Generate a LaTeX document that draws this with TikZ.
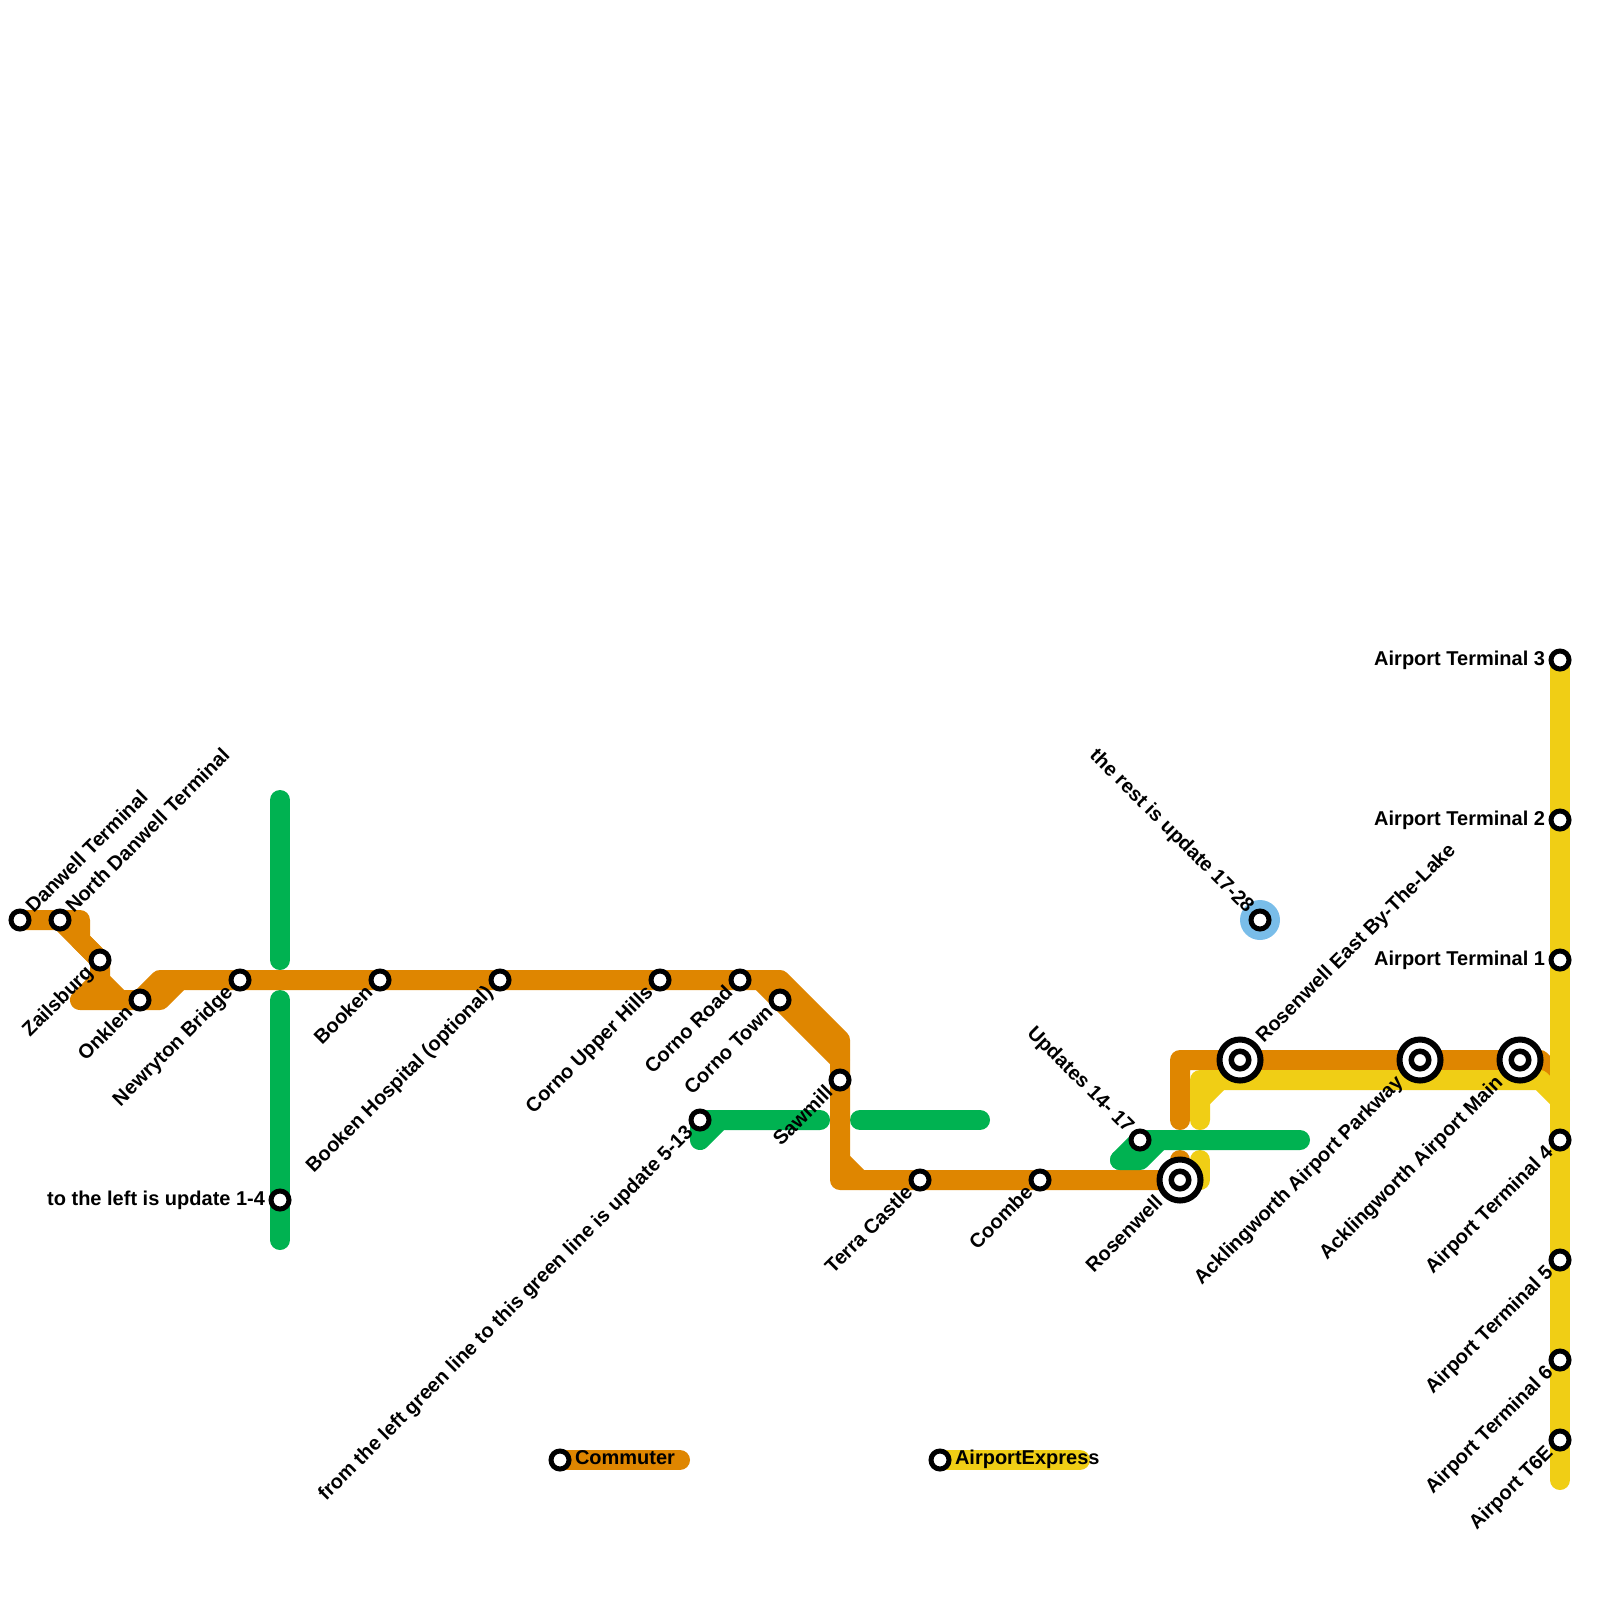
\documentclass[tikz,border=0pt]{standalone}
\usepackage{fontspec}
\setmainfont{Liberation Sans}
\definecolor{orangeline}{HTML}{DF8600}
\definecolor{greenline}{HTML}{00B251}
\definecolor{yellowline}{HTML}{F0CE15}
\definecolor{blueline}{HTML}{79BDE9}
\tikzset{
  metro/.style={line width=20pt,line cap=round,line join=round},
  orangepath/.style={metro,draw=orangeline},
  greenpath/.style={metro,draw=greenline},
  yellowpath/.style={metro,draw=yellowline},
  stn/.style={circle,draw=black,fill=white,line width=5pt,minimum size=18pt,inner sep=0pt,outer sep=0pt},
  hub/.style={circle,draw=black,fill=white,line width=6pt,minimum size=41pt,inner sep=0pt,outer sep=0pt},
  hubinner/.style={circle,draw=black,fill=white,line width=5.5pt,minimum size=17.5pt,inner sep=0pt,outer sep=0pt},
  lbl/.style={font=\fontsize{20}{22}\selectfont\bfseries,text=black,inner sep=0pt,outer sep=0pt},
  up/.style={lbl,rotate=45,anchor=mid west},
  dn/.style={lbl,rotate=45,anchor=mid east},
  ul/.style={lbl,rotate=-45,anchor=mid east},
  lf/.style={lbl,anchor=mid east}
}
\begin{document}
\begin{tikzpicture}[x=1pt,y=-1pt]
\useasboundingbox (0,0) rectangle (1600,1600);
% green lines
\draw[greenpath] (280,800) -- (280,960);
\draw[greenpath] (280,1000) -- (280,1240);
\draw[greenpath] (820,1120) -- (700,1120) -- (700,1140) -- (720,1120);
\draw[greenpath] (860,1120) -- (980,1120);
% orange lines
\draw[orangepath] (20,920) -- (80,920) -- (80,940) -- (100,960);
\draw[orangepath] (60,920) -- (100,960) -- (100,980) -- (120,1000);
\draw[orangepath] (100,980) -- (80,1000) -- (160,1000) -- (180,980);
\draw[orangepath] (140,1000) -- (160,980) -- (780,980) -- (840,1040) -- (840,1180) -- (1180,1180);
\draw[orangepath] (760,980) -- (840,1060);
\draw[orangepath] (840,1160) -- (860,1180);
\draw[orangepath] (1180,1160) -- (1180,1180);
\draw[orangepath] (1180,1120) -- (1180,1060) -- (1540,1060) -- (1560,1080);
% yellow lines
\draw[yellowpath] (1200,1160) -- (1200,1180);
\draw[yellowpath] (1200,1120) -- (1200,1080) -- (1540,1080) -- (1560,1100);
\draw[yellowpath] (1200,1100) -- (1220,1080);
\draw[yellowpath,line cap=butt] (1560,660) -- (1560,670);
\draw[yellowpath] (1560,670) -- (1560,1480);
% green over the top
\draw[greenpath] (1120,1160) -- (1140,1140) -- (1300,1140);
\draw[greenpath] (1120,1160) -- (1140,1160) -- (1160,1140);
% legend
\draw[orangepath] (560,1460) -- (680,1460);
\draw[yellowpath] (940,1460) -- (1080,1460);
% blue halo
\fill[blueline] (1260,920) circle (20);
% stations
\node[stn] (danwell) at (20,920) {};
\node[stn] (ndanwell) at (60,920) {};
\node[stn] (zails) at (100,960) {};
\node[stn] (onklen) at (140,1000) {};
\node[stn] (newry) at (240,980) {};
\node[stn] (booken) at (380,980) {};
\node[stn] (bookenh) at (500,980) {};
\node[stn] (cornoup) at (660,980) {};
\node[stn] (cornord) at (740,980) {};
\node[stn] (cornotn) at (780,1000) {};
\node[stn] (sawmill) at (840,1080) {};
\node[stn] (upfive) at (700,1120) {};
\node[stn] (leftone) at (280,1200) {};
\node[stn] (terra) at (920,1180) {};
\node[stn] (coombe) at (1040,1180) {};
\node[stn] (upfourteen) at (1140,1140) {};
\node[stn] (rest) at (1260,920) {};
\node[stn] (tthree) at (1560,660) {};
\node[stn] (ttwo) at (1560,820) {};
\node[stn] (tone) at (1560,960) {};
\node[stn] (tfour) at (1560,1140) {};
\node[stn] (tfive) at (1560,1260) {};
\node[stn] (tsix) at (1560,1360) {};
\node[stn] (tsixe) at (1560,1440) {};
\node[hub] (rosen) at (1180,1180) {}; \node[hubinner] (rosenc) at (1180,1180) {};
\node[hub] (roseast) at (1240,1060) {}; \node[hubinner] (roseastc) at (1240,1060) {};
\node[hub] (parkway) at (1420,1060) {}; \node[hubinner] (parkwayc) at (1420,1060) {};
\node[hub] (mainst) at (1520,1060) {}; \node[hubinner] (mainstc) at (1520,1060) {};
\node[stn] (legc) at (560,1460) {};
\node[stn] (lega) at (940,1460) {};
% labels
\node[up] (l1) at ([shift={(12,-8)}]danwell.center) {Danwell Terminal};
\node[up] (l2) at ([shift={(12,-8)}]ndanwell.center) {North Danwell Terminal};
\node[dn] (l3) at ([shift={(-8,12)}]zails.center) {Zailsburg};
\node[dn] (l4) at ([shift={(-8,12)}]onklen.center) {Onklen};
\node[dn] (l5) at ([shift={(-8,12)}]newry.center) {Newryton Bridge};
\node[dn] (l6) at ([shift={(-8,12)}]booken.center) {Booken};
\node[dn] (l7) at ([shift={(-8,12)}]bookenh.center) {Booken Hospital (optional)};
\node[dn] (l8) at ([shift={(-8,12)}]cornoup.center) {Corno Upper Hills};
\node[dn] (l9) at ([shift={(-8,12)}]cornord.center) {Corno Road};
\node[dn] (l10) at ([shift={(-8,12)}]cornotn.center) {Corno Town};
\node[dn] (l11) at ([shift={(-8,12)}]sawmill.center) {Sawmill};
\node[dn] (l12) at ([shift={(-8,12)}]upfive.center) {from the left green line to this green line is update 5-13};
\node[lf] (l13) at ([shift={(-15,3)}]leftone.center) {to the left is update 1-4};
\node[dn] (l14) at ([shift={(-8,12)}]terra.center) {Terra Castle};
\node[dn] (l15) at ([shift={(-8,12)}]coombe.center) {Coombe};
\node[dn] (l16) at ([shift={(-18,22)}]rosen.center) {Rosenwell};
\node[ul] (l17) at ([shift={(-12,-8)}]upfourteen.center) {Updates 14- 17};
\node[ul] (l18) at ([shift={(-12,-8)}]rest.center) {the rest is update 17-28};
\node[up] (l19) at ([shift={(22,-18)}]roseast.center) {Rosenwell East By-The-Lake};
\node[dn] (l20) at ([shift={(-18,22)}]parkway.center) {Acklingworth Airport Parkway};
\node[dn] (l21) at ([shift={(-18,22)}]mainst.center) {Acklingworth Airport Main};
\node[lf] (l22) at ([shift={(-15,3)}]tthree.center) {Airport Terminal 3};
\node[lf] (l23) at ([shift={(-15,3)}]ttwo.center) {Airport Terminal 2};
\node[lf] (l24) at ([shift={(-15,3)}]tone.center) {Airport Terminal 1};
\node[dn] (l25) at ([shift={(-8,12)}]tfour.center) {Airport Terminal 4};
\node[dn] (l26) at ([shift={(-8,12)}]tfive.center) {Airport Terminal 5};
\node[dn] (l27) at ([shift={(-8,12)}]tsix.center) {Airport Terminal 6};
\node[dn] (l28) at ([shift={(-8,12)}]tsixe.center) {Airport T6E};
\node[lbl,anchor=mid west] (l29) at ([shift={(15,2)}]legc.center) {Commuter};
\node[lbl,anchor=mid west] (l30) at ([shift={(15,2)}]lega.center) {AirportExpress};
\end{tikzpicture}
\end{document}
